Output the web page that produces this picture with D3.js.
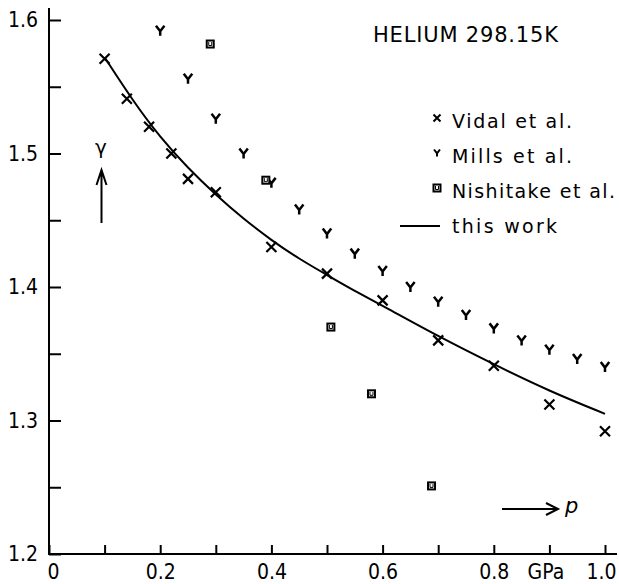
<!DOCTYPE html>
<html>
<head>
<meta charset="utf-8">
<script src="https://cdn.jsdelivr.net/npm/d3@7"></script>
<style>
  body { margin: 0; background: #fff; }
  svg { display: block; }
  text { font-family: "DejaVu Sans", sans-serif; fill: #000; }
  .tick text { font-family: "DejaVu Sans Condensed", "DejaVu Sans", sans-serif; font-stretch: condensed; }
</style>
</head>
<body>
<div id="chart"></div>
<script>
// pressure in GPa, gamma = Cp/Cv
var vidalP = [0.10, 0.14, 0.18, 0.22, 0.25, 0.30, 0.40, 0.50, 0.60, 0.70, 0.80, 0.90, 1.00];
var vidalG = [1.571, 1.541, 1.520, 1.500, 1.481, 1.471, 1.430, 1.410, 1.390, 1.360, 1.341, 1.312, 1.292];

var millsP = [0.20, 0.25, 0.30, 0.35, 0.40, 0.45, 0.50, 0.55, 0.60, 0.65, 0.70, 0.75, 0.80, 0.85, 0.90, 0.95, 1.00];
var millsG = [1.592, 1.556, 1.526, 1.500, 1.478, 1.458, 1.440, 1.425, 1.412, 1.400, 1.389, 1.379, 1.369, 1.360, 1.353, 1.346, 1.340];

var nishiP = [0.29, 0.39, 0.507, 0.58, 0.688];
var nishiG = [1.582, 1.480, 1.370, 1.320, 1.251];

var workP = [0.10, 0.15, 0.20, 0.25, 0.30, 0.35, 0.40, 0.45, 0.50, 0.55, 0.60, 0.70, 0.80, 0.90, 1.00];
var workG = [1.572, 1.540, 1.512, 1.489, 1.469, 1.451, 1.435, 1.421, 1.409, 1.397, 1.386, 1.363, 1.342, 1.322, 1.305];

var xTicks = [0, 0.1, 0.2, 0.3, 0.4, 0.5, 0.6, 0.7, 0.8, 0.9, 1.0];
var xLabels = ["0", "", "0.2", "", "0.4", "", "0.6", "", "0.8", "GPa", "1.0"];
var yTicks = [1.2, 1.25, 1.3, 1.35, 1.4, 1.45, 1.5, 1.55, 1.6];
var yLabels = ["1.2", "", "1.3", "", "1.4", "", "1.5", "", "1.6"];

var legendNames = ["Vidal et al.", "Mills et al.", "Nishitake et al.", "this work"];
var legendWidths = [120, 120, 163, 105];
var title = "HELIUM 298.15K";

var w = 619, h = 584;

var x = d3.scaleLinear().domain([0, 1]).range([49, 605]),
    y = d3.scaleLinear().domain([1.2, 1.6]).range([554, 20]);

var svg = d3.select("#chart").append("svg")
    .attr("width", w)
    .attr("height", h);

// marker drawers
function cross(g, s, sw) {
    g.append("path")
        .attr("d", "M" + (-s) + "," + (-s) + "L" + s + "," + s + "M" + s + "," + (-s) + "L" + (-s) + "," + s)
        .attr("stroke", "#000").attr("stroke-width", sw || 2.2).attr("fill", "none");
}
function wye(g, s, sw) {
    g.append("path")
        .attr("d", "M" + (-s * 0.85) + "," + (-s) + "L0," + (s * 0.1) + "L" + (s * 0.85) + "," + (-s) + "M0," + (s * 0.1) + "L0," + s)
        .attr("stroke", "#000").attr("stroke-width", sw || 2.5).attr("fill", "none");
}
function box(g, s) {
    g.append("rect")
        .attr("x", -s).attr("y", -s).attr("width", 2 * s).attr("height", 2 * s)
        .attr("fill", "#fff").attr("stroke", "#000").attr("stroke-width", 2);
    g.append("path")
        .attr("d", "M-1.5,-2L-1.5,1.5L1.5,1.5L1.5,-2")
        .attr("stroke", "#000").attr("stroke-width", 1).attr("fill", "none");
}

// axes
var yAxis = d3.axisLeft(y)
    .tickValues(yTicks)
    .tickFormat(function(d, i) { return yLabels[i]; })
    .tickSizeInner(-12)
    .tickSizeOuter(0)
    .tickPadding(11);

var xAxis = d3.axisBottom(x)
    .tickValues(xTicks)
    .tickFormat(function(d, i) { return xLabels[i]; })
    .tickSizeInner(-9)
    .tickSizeOuter(0)
    .tickPadding(10);

var gy = svg.append("g")
    .attr("transform", "translate(" + x(0) + ",0)")
    .call(yAxis);
var gx = svg.append("g")
    .attr("transform", "translate(0," + y(1.2) + ")")
    .call(xAxis);

[gx, gy].forEach(function(g) {
    g.select(".domain").remove();
    g.selectAll(".tick line").attr("stroke", "#000").attr("stroke-width", 2);
    g.selectAll(".tick text").style("font-size", "21px").attr("font-family", null);
});
// small nudges so the end labels sit like the original
gx.selectAll(".tick text").attr("dx", function(d, i) {
    return d === 0 ? 4 : (i === xTicks.length - 1 ? -4 : (xLabels[i] === "GPa" ? -4 : 0));
});

svg.append("line")
    .attr("x1", x(0)).attr("x2", x(0))
    .attr("y1", y(1.6) - 12).attr("y2", y(1.2) + 1)
    .attr("stroke", "#000").attr("stroke-width", 2);
svg.append("line")
    .attr("x1", x(0) - 1).attr("x2", x(1) + 12)
    .attr("y1", y(1.2)).attr("y2", y(1.2))
    .attr("stroke", "#000").attr("stroke-width", 2);

// this work
var line = d3.line()
    .x(function(d) { return x(d[0]); })
    .y(function(d) { return y(d[1]); })
    .curve(d3.curveBasis);

svg.append("path")
    .datum(d3.zip(workP, workG))
    .attr("d", line)
    .attr("fill", "none")
    .attr("stroke", "#000")
    .attr("stroke-width", 2);

// data points
svg.append("g").selectAll("g")
    .data(d3.zip(vidalP, vidalG)).enter().append("g")
    .attr("transform", function(d) { return "translate(" + x(d[0]) + "," + y(d[1]) + ")"; })
    .each(function() { cross(d3.select(this), 5); });

svg.append("g").selectAll("g")
    .data(d3.zip(millsP, millsG)).enter().append("g")
    .attr("transform", function(d) { return "translate(" + x(d[0]) + "," + y(d[1]) + ")"; })
    .each(function() { wye(d3.select(this), 5); });

svg.append("g").selectAll("g")
    .data(d3.zip(nishiP, nishiG)).enter().append("g")
    .attr("transform", function(d) { return "translate(" + x(d[0]) + "," + y(d[1]) + ")"; })
    .each(function() { box(d3.select(this), 3.5); });

// title + legend
svg.append("text")
    .attr("x", 373).attr("y", 42)
    .attr("textLength", 185)
    .attr("lengthAdjust", "spacing")
    .style("font-size", "21px")
    .text(title);

var legend = svg.append("g").attr("transform", "translate(437,118)");
var drawers = [cross, wye, box];
legendNames.forEach(function(name, i) {
    var row = legend.append("g").attr("transform", "translate(0," + (i * 35) + ")");
    if (i < 3) {
        drawers[i](row, 3.5, 2);
    } else {
        row.append("line")
            .attr("x1", -37).attr("x2", 3).attr("y1", 3).attr("y2", 3)
            .attr("stroke", "#000").attr("stroke-width", 2);
    }
    row.append("text")
        .attr("x", 15).attr("y", 4)
        .attr("dy", "0.32em")
        .attr("textLength", legendWidths[i])
        .attr("lengthAdjust", "spacing")
        .style("font-size", "19px")
        .text(name);
});

// axis labels with arrows
svg.append("text")
    .attr("x", 101).attr("y", 154)
    .attr("text-anchor", "middle")
    .style("font-size", "20px")
    .text("γ");
svg.append("path")
    .attr("d", "M101.5,223L101.5,170M96.5,185L101.5,170L106.5,185")
    .attr("fill", "none").attr("stroke", "#000").attr("stroke-width", 2);

svg.append("path")
    .attr("d", "M502,509L558,509M546,503L558,509L546,515")
    .attr("fill", "none").attr("stroke", "#000").attr("stroke-width", 2);
svg.append("text")
    .attr("x", 565).attr("y", 513)
    .style("font-size", "21px")
    .style("font-style", "italic")
    .text("p");
</script>
</body>
</html>
